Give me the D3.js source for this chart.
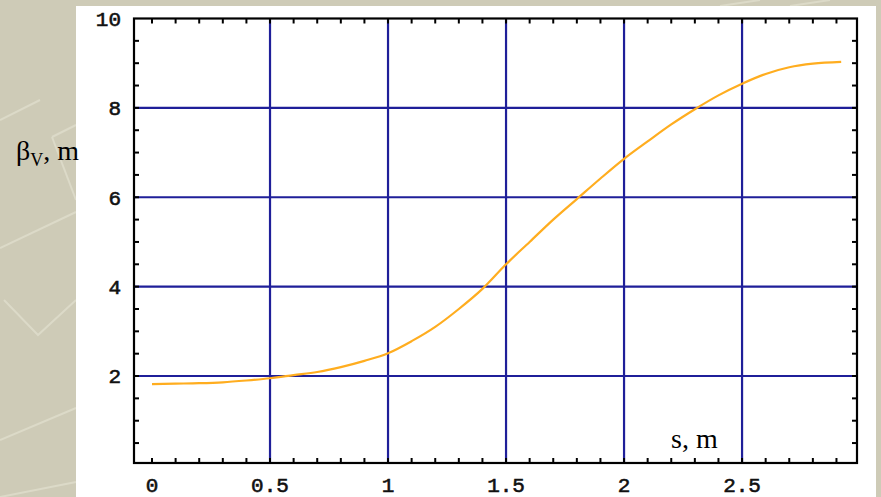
<!DOCTYPE html>
<html>
<head>
<meta charset="utf-8">
<script src="https://cdn.jsdelivr.net/npm/d3@7/dist/d3.min.js"></script>
<style>
  html, body { margin: 0; padding: 0; background: #cecbb7; }
  svg { display: block; }
</style>
</head>
<body>
<svg id="chart" width="881" height="497"></svg>
<script>
// ---- data ----
const sValues = [0, 0.1, 0.2, 0.3, 0.4, 0.5, 0.6, 0.7, 0.8, 0.9, 1.0, 1.1, 1.2, 1.3, 1.4, 1.5,
                 1.6, 1.7, 1.8, 1.9, 2.0, 2.1, 2.2, 2.3, 2.4, 2.5, 2.6, 2.7, 2.8, 2.92];
const betaV   = [1.82, 1.83, 1.84, 1.86, 1.9, 1.95, 2.02, 2.09, 2.2, 2.34, 2.51, 2.78, 3.1, 3.5, 3.95, 4.5,
                 5.0, 5.5, 5.96, 6.42, 6.86, 7.25, 7.63, 7.97, 8.28, 8.54, 8.76, 8.91, 8.99, 9.03];
const xTickValues = [0, 0.5, 1, 1.5, 2, 2.5];
const xTickLabels = ["0", "0.5", "1", "1.5", "2", "2.5"];
const yTickValues = [2, 4, 6, 8, 10];
const yTickLabels = ["2", "4", "6", "8", "10"];
const xLabel = "s, m";

// ---- layout ----
const svg = d3.select("#chart");
const xDomain = [-0.0763, 2.987];
const yDomain = [0.054, 10];
const x = d3.scaleLinear().domain(xDomain).range([134, 857]);
const y = d3.scaleLinear().domain([0, 10]).range([465.4, 18.5]);

// background decoration (light strokes of the slide theme)
const deco = svg.append("g").attr("stroke", "#dcdac8").attr("stroke-width", 2).attr("fill", "none");
[
  [[0, 248], [76, 212]],
  [[52, 137], [76, 125]],
  [[52, 137], [76, 200]],
  [[4, 300], [38, 335], [76, 300]],
  [[0, 440], [76, 408]],
  [[0, 497], [76, 482]],
  [[0, 120], [40, 100]],
  [[720, 6], [760, 0]],
  [[790, 6], [830, 0]]
].forEach(p => deco.append("path").attr("d", d3.line()(p)));

// white panel
svg.append("rect").attr("x", 76).attr("y", 6).attr("width", 800).attr("height", 491).attr("fill", "#ffffff");

const x0 = x(xDomain[0]), x1 = x(xDomain[1]);
const yb = y(yDomain[0]), yt = y(yDomain[1]);

// grid
const gridColor = "#1f1f99";
const grid = svg.append("g").attr("stroke", gridColor).attr("stroke-width", 2.2);
xTickValues.filter(v => v > 0).forEach(v => {
  grid.append("line").attr("x1", x(v)).attr("x2", x(v)).attr("y1", yt).attr("y2", yb);
});
yTickValues.filter(v => v < 10).forEach(v => {
  grid.append("line").attr("x1", x0).attr("x2", x1).attr("y1", y(v)).attr("y2", y(v));
});

// minor ticks (inward) on all four sides
const ticks = svg.append("g").attr("stroke", "#000").attr("stroke-width", 2);
const xMinor = d3.range(0, 30).map(i => i / 10).filter(v => v <= xDomain[1]);
xMinor.forEach(v => {
  ticks.append("line").attr("x1", x(v)).attr("x2", x(v)).attr("y1", yb).attr("y2", yb - 5);
  ticks.append("line").attr("x1", x(v)).attr("x2", x(v)).attr("y1", yt).attr("y2", yt + 5);
});
const yMinor = d3.range(1, 20).map(i => i / 2);
yMinor.forEach(v => {
  ticks.append("line").attr("x1", x0).attr("x2", x0 + 5).attr("y1", y(v)).attr("y2", y(v));
  ticks.append("line").attr("x1", x1).attr("x2", x1 - 5).attr("y1", y(v)).attr("y2", y(v));
});

// curve
svg.append("path")
  .datum(sValues.map((s, i) => [s, betaV[i]]))
  .attr("fill", "none")
  .attr("stroke", "#ffad1f")
  .attr("stroke-width", 2.2)
  .attr("d", d3.line().x(d => x(d[0])).y(d => y(d[1])).curve(d3.curveMonotoneX));

// frame
svg.append("rect").attr("x", x0).attr("y", yt).attr("width", x1 - x0).attr("height", yb - yt)
  .attr("fill", "none").attr("stroke", "#000").attr("stroke-width", 2.2);

// tick labels
const tickFont = "'Liberation Mono', 'DejaVu Sans Mono', monospace";
svg.append("g").selectAll("text").data(xTickValues).join("text")
  .attr("x", d => x(d)).attr("y", 492)
  .attr("text-anchor", "middle")
  .attr("font-family", tickFont).attr("font-size", 21).attr("fill", "#111")
  .attr("stroke", "#111").attr("stroke-width", 0.6)
  .text((d, i) => xTickLabels[i]);
svg.append("g").selectAll("text").data(yTickValues).join("text")
  .attr("x", 121).attr("y", d => y(d)).attr("dy", "0.35em")
  .attr("text-anchor", "end")
  .attr("font-family", tickFont).attr("font-size", 21).attr("fill", "#111")
  .attr("stroke", "#111").attr("stroke-width", 0.6)
  .text((d, i) => yTickLabels[i]);

// axis labels
const serif = "'Liberation Serif', 'Times New Roman', serif";
svg.append("text").attr("x", 671).attr("y", 448)
  .attr("font-family", serif).attr("font-size", 28).attr("fill", "#000").text(xLabel);
const yl = svg.append("text").attr("x", 16).attr("y", 160)
  .attr("font-family", serif).attr("font-size", 28).attr("fill", "#000");
yl.append("tspan").text("β");
yl.append("tspan").attr("font-size", 18).attr("dy", 6).text("V");
yl.append("tspan").attr("dy", -6).text(", m");
</script>
</body>
</html>
